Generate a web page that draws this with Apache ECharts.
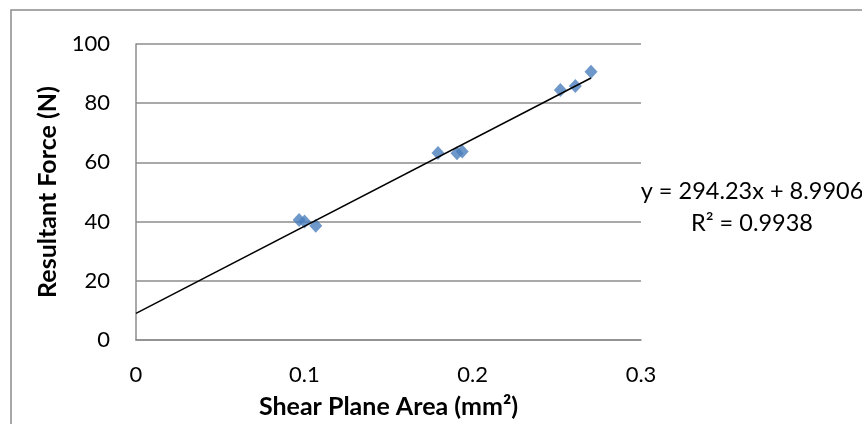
<!DOCTYPE html>
<html>
<head>
<meta charset="utf-8">
<script src="https://cdn.jsdelivr.net/npm/echarts@6/dist/echarts.min.js"></script>
<style>
  html, body { margin: 0; padding: 0; background: #fff; }
  #chart { width: 862px; height: 424px; }
</style>
</head>
<body>
<div id="chart"></div>
<script>
// Shear plane area (mm²) vs resultant force (N)
const shearArea = [0.0969, 0.1001, 0.1068, 0.1794, 0.1907, 0.1938, 0.2521, 0.2610, 0.2703];
const resultantForce = [40.5, 40.0, 38.6, 63.2, 63.1, 63.7, 84.5, 85.8, 90.6];

// Linear trendline fit
const slope = 294.23;
const intercept = 8.9906;
const rSquared = 0.9938;

const xTicks = [0, 0.1, 0.2, 0.3];
const yTicks = [0, 20, 40, 60, 80, 100];

const FONT = 'Lato, "Open Sans", sans-serif';
const GRID_GRAY = '#8c8c8c';

const points = shearArea.map((x, i) => [x, resultantForce[i]]);
const xMax = Math.max(...shearArea);
const trend = [[0, intercept], [xMax, slope * xMax + intercept]];

const chart = echarts.init(document.getElementById('chart'), null, { renderer: 'canvas' });

chart.setOption({
  animation: false,
  backgroundColor: '#fff',
  textStyle: { fontFamily: FONT },
  grid: { left: 136, right: 221, top: 44, bottom: 84, containLabel: false },
  xAxis: {
    type: 'value',
    min: xTicks[0],
    max: xTicks[xTicks.length - 1],
    interval: 0.1,
    name: 'Shear Plane Area (mm²)',
    nameLocation: 'middle',
    nameGap: 54,
    nameTextStyle: { fontFamily: FONT, fontSize: 25, fontWeight: 'bold', color: '#000' },
    axisLine: { show: true, onZero: false, lineStyle: { color: GRID_GRAY, width: 1.5 } },
    axisTick: { show: false },
    splitLine: { show: false },
    axisLabel: {
      margin: 24,
      fontFamily: FONT, fontSize: 22, color: '#000',
      formatter: v => String(Math.round(v * 10) / 10)
    }
  },
  yAxis: {
    type: 'value',
    min: yTicks[0],
    max: yTicks[yTicks.length - 1],
    interval: 20,
    name: 'Resultant Force (N)',
    nameLocation: 'middle',
    nameGap: 76,
    nameTextStyle: { fontFamily: FONT, fontSize: 25, fontWeight: 'bold', color: '#000' },
    axisLine: { show: true, lineStyle: { color: GRID_GRAY, width: 1.5 } },
    axisTick: { show: false },
    splitLine: { show: true, lineStyle: { color: GRID_GRAY, width: 1.5 } },
    axisLabel: { margin: 26, fontFamily: FONT, fontSize: 22, color: '#000' }
  },
  graphic: [
    {
      type: 'rect',
      shape: { x: 11, y: 10, width: 1000, height: 600 },
      style: { fill: 'none', stroke: '#8c8c8c', lineWidth: 1.5 },
      silent: true,
      z: -1
    },
    {
      type: 'text',
      x: 752, y: 191,
      style: {
        text: 'y = ' + slope.toFixed(2) + 'x + ' + intercept.toFixed(4),
        font: '23.5px ' + FONT, fill: '#000', align: 'center', verticalAlign: 'middle'
      }
    },
    {
      type: 'text',
      x: 752, y: 223,
      style: {
        text: 'R² = ' + rSquared.toFixed(4),
        font: '23.5px ' + FONT, fill: '#000', align: 'center', verticalAlign: 'middle'
      }
    }
  ],
  series: [
    {
      name: 'Resultant Force',
      type: 'scatter',
      data: points,
      symbol: 'diamond',
      symbolSize: [13, 14],
      itemStyle: { color: '#4A7EBB' },
      z: 3
    },
    {
      name: 'Linear fit',
      type: 'line',
      data: trend,
      symbol: 'none',
      lineStyle: { color: '#000', width: 1.5 },
      z: 4
    }
  ]
});
</script>
</body>
</html>
